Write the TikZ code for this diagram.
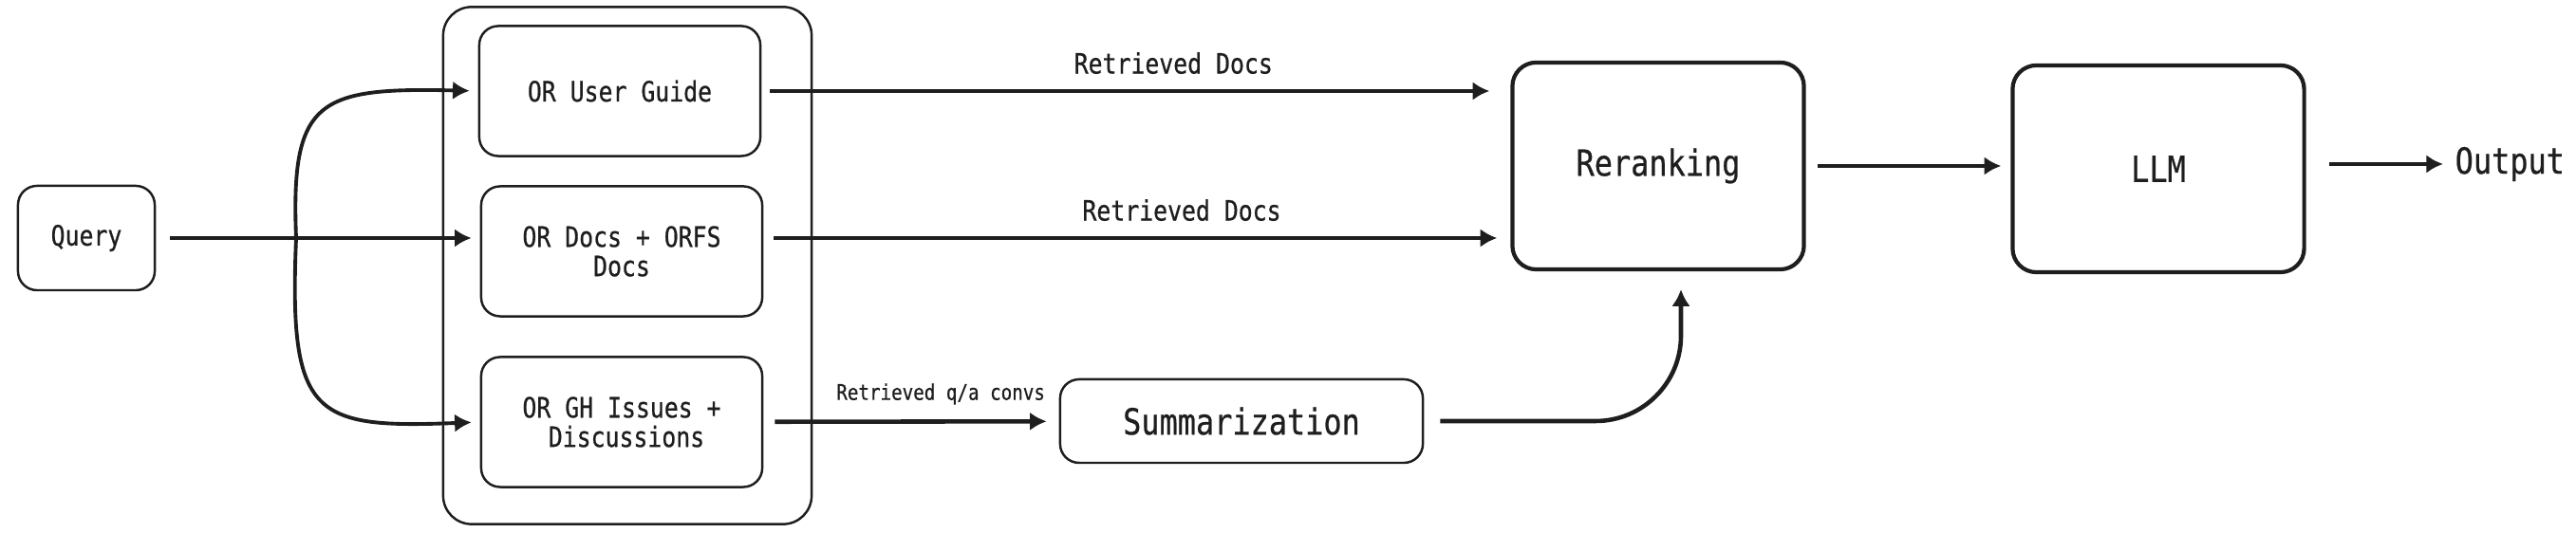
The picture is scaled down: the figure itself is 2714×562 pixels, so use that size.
\documentclass[tikz,border=0pt]{standalone}
\usepackage{fontspec}
\newfontfamily\diafont[FakeStretch=0.84,FakeBold=0.6]{DejaVu Sans Mono}
\newcommand\dianormal{\diafont\fontsize{8.4}{8.8}\selectfont}
\newcommand\diabig{\diafont\fontsize{10.8}{12}\selectfont}
\newcommand\diasmall{\diafont\fontsize{6.5}{7}\selectfont}
\usetikzlibrary{arrows.meta, positioning, calc}
\definecolor{ink}{HTML}{1E1E1E}

\begin{document}
\begin{tikzpicture}[x=0.01cm,y=-0.01cm,color=ink,
    srcbox/.style={draw,rounded corners=0.2cm,line width=0.7pt,minimum width=2.96cm,minimum height=1.37cm,align=center,font=\dianormal},
    bigbox/.style={draw,rounded corners=0.25cm,line width=1.2pt,minimum width=3.07cm,minimum height=2.18cm,font=\diabig},
    groupbox/.style={draw,rounded corners=0.3cm,line width=0.7pt,minimum width=3.88cm,minimum height=5.45cm},
    flow/.style={-{Latex[length=5pt,width=5.5pt]},line width=1.3pt},
    lbl/.style={font=\dianormal,above=0.04cm}]
      \useasboundingbox (0,0) rectangle (2714,562);
      % boxes
      \node[groupbox] (store) at (661,280) {};
      \node[srcbox,minimum width=1.44cm,minimum height=1.10cm] (query) at (91,251) {Query};
      \node[srcbox] (guide) at (653,96) {OR User Guide};
      \node[srcbox] (ordocs) at (655,265) {OR Docs + ORFS\\Docs};
      \node[srcbox] (issues) at (655,445) {OR GH Issues +\\\hspace*{0.1cm}Discussions};
      \node[srcbox,minimum width=3.82cm,minimum height=0.88cm,font=\diabig] (summ) at (1308,444) {Summarization};
      \node[bigbox] (rerank) at (1747,175) {Reranking};
      \node[bigbox] (llm) at (2274,178) {LLM};
      \node[anchor=west,inner sep=0pt,font=\diabig] (out) at (2586,173) {Output};
      % query fan-out
      \coordinate (split) at (312,251);
      \draw[flow,shorten <=0.15cm,shorten >=0.09cm] (query) -- (query -| ordocs.west);
      \draw[flow,line width=1.1pt,shorten >=0.09cm] (split) .. controls (306,105) and (335,92) .. (guide.west);
      \draw[flow,line width=1.1pt,shorten >=0.09cm] (split) .. controls (304,440) and (330,452) .. (issues.west);
      % retrieval
      \draw[flow,shorten <=0.09cm,shorten >=0.22cm] (guide) -- (guide -| rerank.west) node[lbl,pos=0.55] {Retrieved Docs};
      \draw[flow,shorten <=0.11cm,shorten >=0.14cm] (ordocs.east |- query) -- (query -| rerank.west) node[lbl,pos=0.56] {Retrieved Docs};
      \draw[flow,shorten <=0.12cm,shorten >=0.13cm] (issues) -- (summ) node[lbl,font=\diasmall,pos=0.6] {Retrieved q/a convs};
      \draw[flow,rounded corners=0.9cm,shorten <=0.17cm,shorten >=0.19cm] (summ.east) -| ([xshift=0.24cm]rerank.south);
      % generation
      \draw[flow,shorten <=0.12cm,shorten >=0.1cm] (rerank) -- (rerank -| llm.west);
      \draw[flow,shorten <=0.24cm,shorten >=0.12cm] (llm.east |- out) -- (out.west);
\end{tikzpicture}
\end{document}
